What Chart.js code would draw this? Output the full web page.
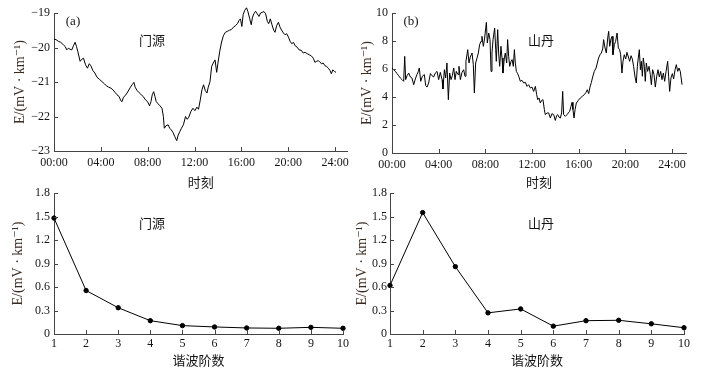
<!DOCTYPE html>
<html>
<head>
<meta charset="utf-8">
<script src="https://cdn.jsdelivr.net/npm/chart.js@4/dist/chart.umd.min.js"></script>
<style>
  html, body { margin: 0; padding: 0; background: #ffffff; }
  #wrap { position: relative; width: 708px; height: 374px; overflow: hidden; background: #fff; }
  canvas { position: absolute; }
</style>
</head>
<body>
<div id="wrap">
  <canvas id="cA" width="354" height="190" style="left:0;top:0;width:354px;height:190px"></canvas>
  <canvas id="cB" width="354" height="190" style="left:354px;top:0;width:354px;height:190px"></canvas>
  <canvas id="cC" width="354" height="194" style="left:0;top:180px;width:354px;height:194px"></canvas>
  <canvas id="cD" width="354" height="194" style="left:354px;top:180px;width:354px;height:194px"></canvas>
</div>
<script>
// ---------------- DATA ----------------
// (a) 门源 daily variation: time (h) and E (mV/km)
const timeMenyuan = [0.00,0.17,0.37,0.57,0.80,0.95,1.09,1.23,1.37,1.52,1.66,1.80,1.92,2.03,2.23,2.38,2.52,2.69,2.86,3.01,3.15,3.32,3.49,3.67,3.87,4.10,4.30,4.47,4.67,4.87,5.04,5.24,5.38,5.56,5.70,5.81,5.93,6.07,6.24,6.39,6.53,6.67,6.82,6.93,7.10,7.27,7.45,7.62,7.82,7.99,8.16,8.28,8.39,8.51,8.62,8.73,8.88,9.05,9.22,9.34,9.42,9.56,9.74,9.88,10.02,10.17,10.31,10.48,10.60,10.74,10.88,11.05,11.23,11.37,11.51,11.68,11.86,12.03,12.20,12.34,12.49,12.63,12.77,12.92,13.06,13.17,13.32,13.46,13.60,13.75,13.89,14.00,14.15,14.29,14.46,14.63,14.81,14.98,15.15,15.32,15.49,15.66,15.81,15.92,16.04,16.15,16.29,16.44,16.55,16.70,16.84,16.95,17.07,17.21,17.35,17.50,17.64,17.78,17.93,18.07,18.21,18.33,18.47,18.61,18.76,18.87,19.01,19.16,19.30,19.44,19.59,19.73,19.87,20.02,20.16,20.30,20.45,20.59,20.76,20.93,21.11,21.28,21.45,21.62,21.79,21.96,22.14,22.28,22.42,22.57,22.71,22.85,22.99,23.14,23.28,23.43,23.57,23.68,23.80,23.94,24.08];
const eMenyuan = [-19.76,-19.77,-19.82,-19.85,-19.92,-19.97,-20.07,-20.02,-20.05,-20.07,-19.95,-19.85,-19.97,-20.11,-20.40,-20.34,-20.31,-20.50,-20.60,-20.47,-20.53,-20.67,-20.74,-20.86,-20.92,-20.99,-21.05,-21.11,-21.15,-21.18,-21.23,-21.31,-21.37,-21.42,-21.54,-21.57,-21.44,-21.40,-21.32,-21.23,-21.15,-21.08,-21.01,-21.15,-21.25,-21.31,-21.37,-21.42,-21.52,-21.57,-21.69,-21.57,-21.37,-21.28,-21.42,-21.57,-21.63,-21.69,-21.76,-22.00,-22.34,-22.27,-22.24,-22.34,-22.39,-22.47,-22.58,-22.70,-22.54,-22.44,-22.34,-22.24,-22.00,-22.08,-22.02,-21.86,-21.76,-21.83,-21.73,-21.79,-21.52,-21.23,-21.08,-21.25,-21.32,-21.15,-20.99,-20.55,-20.45,-20.36,-20.72,-20.45,-20.11,-19.87,-19.66,-19.56,-19.53,-19.50,-19.48,-19.41,-19.37,-19.31,-19.21,-19.17,-19.39,-19.05,-18.92,-18.85,-18.95,-19.15,-19.34,-19.12,-19.02,-18.95,-19.02,-19.10,-19.00,-18.98,-18.96,-19.02,-19.24,-19.31,-19.17,-19.34,-19.50,-19.56,-19.37,-19.27,-19.41,-19.50,-19.58,-19.63,-19.60,-19.70,-19.82,-19.89,-19.85,-19.95,-19.99,-20.07,-20.08,-20.16,-20.14,-20.18,-20.21,-20.24,-20.31,-20.43,-20.40,-20.38,-20.43,-20.47,-20.45,-20.53,-20.55,-20.60,-20.67,-20.76,-20.65,-20.69,-20.72];

// (b) 山丹 daily variation
const timeShandan = [0.00,0.14,0.29,0.43,0.57,0.71,0.86,1.00,1.09,1.17,1.29,1.43,1.57,1.71,1.86,2.00,2.14,2.26,2.34,2.46,2.60,2.77,2.89,3.00,3.14,3.29,3.43,3.57,3.71,3.86,4.00,4.14,4.29,4.37,4.49,4.60,4.71,4.83,4.94,5.06,5.17,5.29,5.40,5.51,5.66,5.74,5.86,6.00,6.14,6.26,6.34,6.49,6.60,6.71,6.86,6.97,7.06,7.17,7.29,7.40,7.51,7.63,7.71,7.83,7.94,8.09,8.17,8.29,8.40,8.49,8.57,8.66,8.80,8.89,8.94,9.06,9.14,9.23,9.34,9.43,9.51,9.63,9.71,9.83,9.91,10.00,10.09,10.20,10.29,10.40,10.49,10.57,10.66,10.77,10.86,11.00,11.14,11.29,11.43,11.57,11.71,11.86,12.00,12.14,12.29,12.40,12.49,12.60,12.71,12.83,12.94,13.06,13.14,13.29,13.43,13.57,13.71,13.86,14.00,14.11,14.20,14.31,14.43,14.54,14.63,14.71,14.86,15.00,15.11,15.23,15.34,15.43,15.51,15.60,15.69,15.80,15.97,16.14,16.31,16.49,16.63,16.74,16.86,16.97,17.09,17.20,17.34,17.49,17.60,17.71,17.83,17.94,18.06,18.14,18.26,18.37,18.49,18.57,18.66,18.77,18.86,18.94,19.06,19.17,19.29,19.40,19.51,19.60,19.71,19.80,19.91,20.03,20.14,20.26,20.37,20.49,20.60,20.71,20.83,20.94,21.03,21.11,21.20,21.29,21.37,21.46,21.54,21.63,21.71,21.80,21.91,22.03,22.14,22.23,22.34,22.46,22.57,22.69,22.80,22.91,23.03,23.14,23.26,23.37,23.49,23.63,23.71,23.80,23.91,24.03,24.14,24.26,24.37,24.49,24.60,24.71,24.86];
const eShandan = [6.07,5.95,5.83,5.67,5.52,5.36,5.24,5.12,6.90,5.24,5.52,5.71,5.43,5.36,4.88,5.29,5.60,5.83,6.07,5.12,5.48,5.60,4.81,4.71,5.00,5.67,5.52,5.43,5.71,5.83,5.24,5.76,5.24,4.57,5.95,5.36,6.43,3.81,5.71,5.24,5.52,6.07,5.24,5.83,5.60,6.19,5.24,5.76,5.95,5.48,6.55,7.38,6.43,6.86,7.14,6.31,4.29,6.43,6.79,7.14,7.74,7.98,8.33,7.62,8.21,9.33,7.86,8.57,8.10,5.83,7.14,8.10,8.93,7.38,6.55,8.81,7.14,6.19,7.62,6.79,5.71,6.79,7.14,6.43,8.10,6.90,6.19,6.55,6.67,6.19,7.38,6.43,5.83,5.67,5.48,5.12,5.19,5.00,5.05,4.76,4.88,4.64,4.71,4.40,4.76,4.17,3.81,3.93,3.57,3.76,3.81,3.10,2.74,2.86,2.86,2.50,2.81,2.74,2.33,2.67,2.74,2.57,2.50,2.86,4.40,2.74,2.62,2.74,2.86,2.98,3.33,3.62,3.10,2.50,3.10,3.57,3.76,3.93,4.05,4.17,4.33,4.52,4.24,4.71,5.05,5.43,5.83,6.07,6.43,6.79,7.02,7.14,7.43,8.10,7.50,7.14,8.21,8.69,7.62,8.14,8.33,7.02,7.74,7.98,8.57,7.50,7.38,7.02,5.71,6.55,7.02,6.71,7.19,6.86,6.55,6.95,6.71,6.19,5.43,5.00,6.19,6.79,7.38,5.95,6.55,5.48,6.79,6.19,5.12,6.43,5.83,6.19,5.60,4.88,5.95,5.60,4.71,5.48,5.95,5.43,5.83,5.24,5.71,5.12,5.83,6.55,5.48,4.40,5.36,5.67,5.29,5.95,6.31,5.83,6.07,5.83,4.88];

// harmonic spectra
const harmonicOrders = [1,2,3,4,5,6,7,8,9,10];
const harmMenyuan = [1.48,0.555,0.335,0.17,0.107,0.09,0.077,0.073,0.085,0.073];
const harmShandan = [0.62,1.55,0.86,0.27,0.32,0.10,0.17,0.175,0.13,0.08];

// tick labels
const timeTickValues = [0,4,8,12,16,20,24];
const timeTickLabels = ['00:00','04:00','08:00','12:00','16:00','20:00','24:00'];
const yTicksMenyuan = [-23,-22,-21,-20,-19];
const yTicksShandan = [0,2,4,6,8,10];
const harmYTickValues = [0,0.3,0.6,0.9,1.2,1.5,1.8];
const harmYTickLabels = ['0','0.3','0.6','0.9','1.2','1.5','1.8'];

const yTitle = 'E/(mV · km⁻¹)';
const xTitleTime = '时刻';
const xTitleHarm = '谐波阶数';

// ---------------- STYLE ----------------
const AXIS = '#444';
const TXT = '#151515';
const SERIF = '"Liberation Serif", "DejaVu Serif", serif';
const CJK = '"Noto Sans CJK SC", "Noto Sans", sans-serif';

const extras = {
  id: 'extras',
  afterDatasetsDraw(chart, args, opts) {
    const ctx = chart.ctx;
    const xs = chart.scales.x, ys = chart.scales.y;
    const ca = chart.chartArea;
    ctx.save();
    ctx.strokeStyle = AXIS;
    ctx.lineWidth = 1;
    ctx.beginPath();
    xs.ticks.forEach(t => {
      const px = Math.round(xs.getPixelForValue(t.value)) + 0.5;
      ctx.moveTo(px, ca.bottom);
      ctx.lineTo(px, ca.bottom - 4);
    });
    ys.ticks.forEach(t => {
      const py = Math.round(ys.getPixelForValue(t.value)) + 0.5;
      ctx.moveTo(ca.left, py);
      ctx.lineTo(ca.left + 4, py);
    });
    ctx.stroke();
    ctx.fillStyle = TXT;
    ctx.textAlign = 'center';
    ctx.textBaseline = 'middle';
    (opts.notes || []).forEach(n => {
      ctx.font = n.font;
      ctx.fillText(n.text, ca.left + n.dx, ca.top + n.dy);
    });
    ctx.restore();
  }
};

function makeChart(id, cfg) {
  return new Chart(document.getElementById(id), {
    type: 'line',
    data: {
      datasets: [{
        data: cfg.xs.map((x, i) => ({x: x, y: cfg.ys[i]})),
        borderColor: '#000',
        backgroundColor: '#000',
        borderWidth: 1,
        pointRadius: cfg.points ? 2.2 : 0,
        pointHoverRadius: 0,
        tension: 0,
        fill: false,
        clip: false
      }]
    },
    options: {
      responsive: false,
      animation: false,
      devicePixelRatio: 1,
      events: [],
      layout: { padding: { top: 13, right: cfg.padRight, left: 0, bottom: 0 } },
      plugins: {
        legend: { display: false },
        tooltip: { enabled: false },
        extras: { notes: cfg.notes }
      },
      scales: {
        x: {
          type: 'linear',
          min: cfg.xMin, max: cfg.xMax,
          afterBuildTicks: s => { s.ticks = cfg.xTickValues.map(v => ({value: v})); },
          afterFit: s => { s.height = cfg.xHeight; },
          grid: { display: false, drawTicks: false },
          border: { display: true, color: AXIS, width: 1 },
          ticks: {
            autoSkip: false, maxRotation: 0, padding: cfg.xTickPad,
            color: TXT, font: { family: SERIF, size: 12 },
            callback: (v, i) => cfg.xTickLabels[i]
          },
          title: {
            display: true, text: cfg.xTitle, color: TXT,
            font: { family: CJK, size: 13, lineHeight: 1.2 },
            padding: { top: 0, bottom: cfg.xTitlePad }
          }
        },
        y: {
          type: 'linear',
          min: cfg.yMin, max: cfg.yMax,
          afterBuildTicks: s => { s.ticks = cfg.yTickValues.map(v => ({value: v})); },
          afterFit: s => { s.width = cfg.yWidth; },
          grid: { display: false, drawTicks: false },
          border: { display: true, color: AXIS, width: 1 },
          ticks: {
            autoSkip: false, padding: cfg.yTickPad,
            color: TXT, font: { family: SERIF, size: 12 },
            callback: (v, i) => cfg.yTickLabels[i]
          },
          title: {
            display: true, text: yTitle, color: '#3a2a20',
            font: { family: SERIF, size: 14, lineHeight: 1.2 },
            padding: { top: cfg.yTitlePad, bottom: 0 }
          }
        }
      }
    },
    plugins: [extras]
  });
}

const fmtMinus = v => (v < 0 ? '\u2212' + Math.abs(v) : String(v));

makeChart('cA', {
  xs: timeMenyuan, ys: eMenyuan,
  xMin: 0, xMax: 25.05, xTickValues: timeTickValues, xTickLabels: timeTickLabels,
  yMin: -23, yMax: -19, yTickValues: yTicksMenyuan, yTickLabels: yTicksMenyuan.map(fmtMinus),
  xTitle: xTitleTime, padRight: 6, xHeight: 39, yWidth: 54,
  xTickPad: 5, yTickPad: 4, xTitlePad: 0, yTitlePad: 12,
  notes: [
    { text: '(a)', font: '13px ' + SERIF, dx: 19, dy: 9 },
    { text: '门源', font: '13px ' + CJK, dx: 98, dy: 27 }
  ]
});

makeChart('cB', {
  xs: timeShandan, ys: eShandan,
  xMin: 0, xMax: 25.2, xTickValues: timeTickValues, xTickLabels: timeTickLabels,
  yMin: 0, yMax: 10, yTickValues: yTicksShandan, yTickLabels: yTicksShandan.map(String),
  xTitle: xTitleTime, padRight: 22, xHeight: 37, yWidth: 38,
  xTickPad: 5, yTickPad: 4, xTitlePad: 0, yTitlePad: 5,
  notes: [
    { text: '(b)', font: '13px ' + SERIF, dx: 19, dy: 9 },
    { text: '山丹', font: '13px ' + CJK, dx: 149, dy: 27 }
  ]
});

makeChart('cC', {
  xs: harmonicOrders, ys: harmMenyuan, points: true,
  xMin: 1, xMax: 10, xTickValues: harmonicOrders, xTickLabels: harmonicOrders.map(String),
  yMin: 0, yMax: 1.8, yTickValues: harmYTickValues, yTickLabels: harmYTickLabels,
  xTitle: xTitleHarm, padRight: 11, xHeight: 40, yWidth: 54,
  xTickPad: 3, yTickPad: 4, xTitlePad: 6, yTitlePad: 10,
  notes: [
    { text: '门源', font: '13px ' + CJK, dx: 98, dy: 30 }
  ]
});

makeChart('cD', {
  xs: harmonicOrders, ys: harmShandan, points: true,
  xMin: 1, xMax: 10, xTickValues: harmonicOrders, xTickLabels: harmonicOrders.map(String),
  yMin: 0, yMax: 1.8, yTickValues: harmYTickValues, yTickLabels: harmYTickLabels,
  xTitle: xTitleHarm, padRight: 24, xHeight: 40, yWidth: 36,
  xTickPad: 3, yTickPad: 3, xTitlePad: 6, yTitlePad: 0,
  notes: [
    { text: '山丹', font: '13px ' + CJK, dx: 151, dy: 30 }
  ]
});
</script>
</body>
</html>
